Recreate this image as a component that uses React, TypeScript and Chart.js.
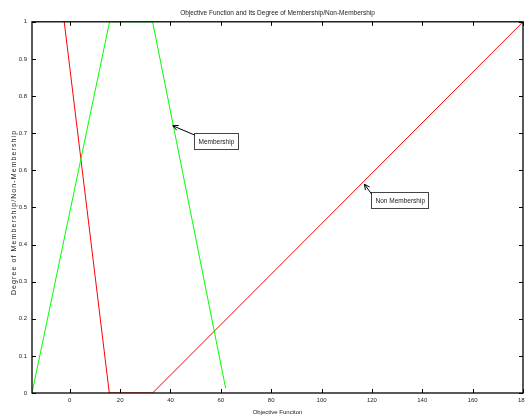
import React, { useEffect, useRef } from "react";
import { Chart, registerables } from "chart.js";

Chart.register(...registerables);

const membershipX = [-15, 15.8, 32.9, 61.9];
const membershipY = [0, 1, 1, 0.013];
const nonMembershipX = [-2.2, 15.7, 32.9, 180];
const nonMembershipY = [1, 0, 0, 1];
const xTickValues = [0, 20, 40, 60, 80, 100, 120, 140, 160, 180];
const yTickValues = [0, 0.1, 0.2, 0.3, 0.4, 0.5, 0.6, 0.7, 0.8, 0.9, 1];

const titleText = "Objective Function and Its Degree of Membership/Non-Membership";
const xTitle = "Objective Funciton";
const yTitle = "Degree of Membership/Non-Membership";

// annotation: arrow tip and box top-left in data coordinates
const annotations = [
  { label: "Membership", tipX: 40.9, tipY: 0.72, boxX: 49.4, boxY: 0.701 },
  { label: "Non Membership", tipX: 117.0, tipY: 0.5625, boxX: 119.6, boxY: 0.541 },
];

const FONT = "'Liberation Sans', Arial, sans-serif";

const framePlugin = {
  id: "frameTicks",
  afterDraw(chart: any) {
    const { ctx, chartArea } = chart;
    const xs = chart.scales.x;
    const ys = chart.scales.y;
    const { left, right, top, bottom } = chartArea;
    ctx.save();
    ctx.strokeStyle = "#000";
    ctx.lineWidth = 1.3;
    ctx.strokeRect(left, top, right - left, bottom - top);
    ctx.lineWidth = 1;
    const tl = 4;
    ctx.beginPath();
    for (const v of xTickValues) {
      const px = Math.round(xs.getPixelForValue(v)) + 0.5;
      ctx.moveTo(px, bottom);
      ctx.lineTo(px, bottom - tl);
      ctx.moveTo(px, top);
      ctx.lineTo(px, top + tl);
    }
    for (const v of yTickValues) {
      const py = Math.round(ys.getPixelForValue(v)) + 0.5;
      ctx.moveTo(left, py);
      ctx.lineTo(left + tl, py);
      ctx.moveTo(right, py);
      ctx.lineTo(right - tl, py);
    }
    ctx.stroke();

    // y axis title (letter-spaced, rotated)
    ctx.save();
    ctx.translate(14, (top + bottom) / 2 + 5);
    ctx.rotate(-Math.PI / 2);
    ctx.font = `7px ${FONT}`;
    (ctx as any).letterSpacing = "1.1px";
    ctx.fillStyle = "#222";
    ctx.textAlign = "center";
    ctx.textBaseline = "middle";
    ctx.fillText(yTitle, 0, 0);
    ctx.restore();

    // annotations
    ctx.font = `6.5px ${FONT}`;
    for (const a of annotations) {
      const tx = xs.getPixelForValue(a.tipX);
      const ty = ys.getPixelForValue(a.tipY);
      const bx = Math.round(xs.getPixelForValue(a.boxX)) + 0.5;
      const by = Math.round(ys.getPixelForValue(a.boxY)) + 0.5;
      const tw = ctx.measureText(a.label).width;
      const bw = Math.round(tw + 8);
      const bh = 16;
      ctx.fillStyle = "#fff";
      ctx.fillRect(bx, by, bw, bh);
      ctx.strokeStyle = "#444";
      ctx.lineWidth = 1;
      ctx.strokeRect(bx, by, bw, bh);
      ctx.fillStyle = "#222";
      ctx.textAlign = "left";
      ctx.textBaseline = "middle";
      ctx.fillText(a.label, bx + 4, by + bh / 2 + 0.5);
      // arrow
      const sx = bx;
      const sy = by + 1.5;
      ctx.strokeStyle = "#000";
      ctx.lineWidth = 1;
      ctx.beginPath();
      ctx.moveTo(sx, sy);
      ctx.lineTo(tx, ty);
      const ang = Math.atan2(ty - sy, tx - sx);
      const hl = 6;
      const ha = 0.45;
      ctx.moveTo(tx, ty);
      ctx.lineTo(tx - hl * Math.cos(ang - ha), ty - hl * Math.sin(ang - ha));
      ctx.moveTo(tx, ty);
      ctx.lineTo(tx - hl * Math.cos(ang + ha), ty - hl * Math.sin(ang + ha));
      ctx.stroke();
    }
    ctx.restore();
  },
};

export default function App() {
  const ref = useRef<HTMLCanvasElement | null>(null);
  useEffect(() => {
    if (!ref.current) return;
    const mk = (xsArr: number[], ysArr: number[]) => xsArr.map((x, i) => ({ x, y: ysArr[i] }));
    const chart = new Chart(ref.current, {
      type: "line",
      data: {
        datasets: [
          {
            label: "Membership",
            data: mk(membershipX, membershipY),
            borderColor: "#00ff00",
            borderWidth: 1,
            pointRadius: 0,
            tension: 0,
            fill: false,
          },
          {
            label: "Non Membership",
            data: mk(nonMembershipX, nonMembershipY),
            borderColor: "#ff0000",
            borderWidth: 1,
            pointRadius: 0,
            tension: 0,
            fill: false,
          },
        ],
      },
      options: {
        animation: false,
        responsive: false,
        layout: { padding: { left: 0, right: 2, top: 0, bottom: 0 }, autoPadding: false },
        plugins: {
          legend: { display: false },
          tooltip: { enabled: false },
          title: {
            display: true,
            text: titleText,
            fullSize: false,
            color: "#222",
            font: { family: FONT, size: 6.5, weight: "normal" },
            padding: { top: 9, bottom: 5 },
          },
        },
        scales: {
          x: {
            type: "linear",
            min: -15,
            max: 180,
            grid: { display: false, drawTicks: false },
            border: { display: false },
            afterBuildTicks: (s: any) => {
              s.ticks = xTickValues.map((v) => ({ value: v }));
            },
            afterFit: (s: any) => {
              s.height = 25;
              s.paddingLeft = 0;
              s.paddingRight = 0;
            },
            ticks: {
              autoSkip: false,
              maxRotation: 0,
              padding: 4,
              color: "#222",
              font: { family: FONT, size: 6 },
            },
            title: {
              display: true,
              text: xTitle,
              color: "#222",
              font: { family: FONT, size: 6 },
              padding: { top: 0, bottom: 2 },
            },
          },
          y: {
            type: "linear",
            min: 0,
            max: 1,
            grid: { display: false, drawTicks: false },
            border: { display: false },
            afterBuildTicks: (s: any) => {
              s.ticks = yTickValues.map((v) => ({ value: v }));
            },
            afterFit: (s: any) => {
              s.width = 32;
              s.paddingTop = 0;
              s.paddingBottom = 0;
            },
            ticks: {
              autoSkip: false,
              padding: 5,
              color: "#222",
              font: { family: FONT, size: 6 },
              callback: (v: any) => String(Math.round(Number(v) * 10) / 10),
            },
          },
        },
      },
      plugins: [framePlugin],
    });
    return () => chart.destroy();
  }, []);
  return (
    <canvas
      ref={ref}
      width={525}
      height={418}
      style={{ position: "absolute", left: 0, top: 0, display: "block", background: "#fff" }}
    />
  );
}
